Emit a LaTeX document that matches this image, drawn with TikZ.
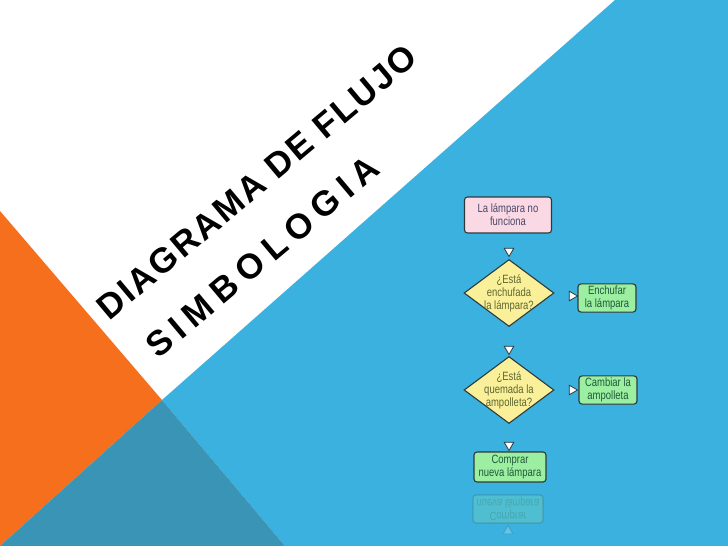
\documentclass[tikz,border=0pt]{standalone}
\usepackage{fontspec}
\setmainfont{Liberation Sans}
\newfontfamily\titlefont[LetterSpace=6]{Liberation Sans}
\newfontfamily\subtitlefont[LetterSpace=21]{Liberation Sans}
\newfontfamily\narrowfont[FakeStretch=0.79]{Liberation Sans}
\usetikzlibrary{shapes.geometric}
\definecolor{bgblue}{HTML}{3BB1DF}
\definecolor{bgorange}{HTML}{F56F1D}
\definecolor{bgteal}{HTML}{3A94B6}
\definecolor{pinkfill}{HTML}{FAD8E4}
\definecolor{pinktext}{HTML}{4A4868}
\definecolor{yellowfill}{HTML}{FAF09A}
\definecolor{yellowtext}{HTML}{5E6630}
\definecolor{greenfill}{HTML}{9CEFA0}
\definecolor{greentext}{HTML}{1E5A3A}
\definecolor{boxline}{HTML}{2E3A3A}
\begin{document}
\begin{tikzpicture}[x=1pt,y=-1pt,
  flowtext/.style={font=\narrowfont\fontsize{12}{13}\selectfont, align=center},
  box/.style={flowtext, draw=boxline, line width=1.1pt, rounded corners=3pt, inner sep=2pt},
  startbox/.style={box, fill=pinkfill, text=pinktext, minimum width=87pt, minimum height=36pt},
  actbox/.style={box, fill=greenfill, text=greentext, minimum width=58pt, minimum height=28pt},
  decision/.style={flowtext, diamond, draw=boxline, line width=1.1pt, fill=yellowfill, text=yellowtext, minimum width=90pt, minimum height=67pt, inner sep=-7pt},
  arrowtri/.style={regular polygon, regular polygon sides=3, minimum size=11pt, inner sep=0pt, fill=white, draw=boxline, line width=0.8pt},
  tridown/.style={arrowtri, shape border rotate=180},
  triright/.style={arrowtri, shape border rotate=-90},
  triup/.style={arrowtri},
  reflection/.style={opacity=0.22},
  titletext/.style={rotate=40, inner sep=0pt, text=black},
]
\useasboundingbox (0,0) rectangle (728,546);
% background
\fill[white] (0,0) rectangle (728,546);
\fill[bgblue] (615,0) -- (728,0) -- (728,546) -- (285,546) -- (162,400) -- cycle;
\fill[bgorange] (0,211) -- (162,400) -- (0,546) -- cycle;
\fill[bgteal] (162,400) -- (0,546) -- (285,546) -- cycle;
% titles
\node[titletext, font=\titlefont\bfseries\fontsize{35}{40}\selectfont] (title) at (257,182) {DIAGRAMA DE FLUJO};
\node[titletext, font=\subtitlefont\bfseries\fontsize{35}{40}\selectfont] (subtitle) at (262,257) {SIMBOLOGIA};
% flowchart
\node[startbox] (start) at (508,215) {La lámpara no\\funciona};
\node[tridown] (t1) at (509,251) {};
\node[decision] (d1) at (509,293) {¿Está\\enchufada\\la lámpara?};
\node[triright] (t2) at (572,296) {};
\node[actbox] (a1) at (607,298) {Enchufar\\la lámpara};
\node[tridown] (t3) at (509,349) {};
\node[decision] (d2) at (509,390) {¿Está\\quemada la\\ampolleta?};
\node[triright] (t4) at (572,390) {};
\node[actbox] (a2) at (608,390) {Cambiar la\\ampolleta};
\node[tridown] (t5) at (509,445) {};
\node[actbox, minimum width=72pt, minimum height=30pt] (a3) at (510,467) {Comprar\\nueva lámpara};
% reflection
\node[actbox, reflection, minimum width=70pt, minimum height=28pt, yscale=-1, transform shape] (a3r) at (508,509) {Comprar\\nueva lámpara};
\node[triup, reflection] (t5r) at (508,531) {};
\end{tikzpicture}
\end{document}
